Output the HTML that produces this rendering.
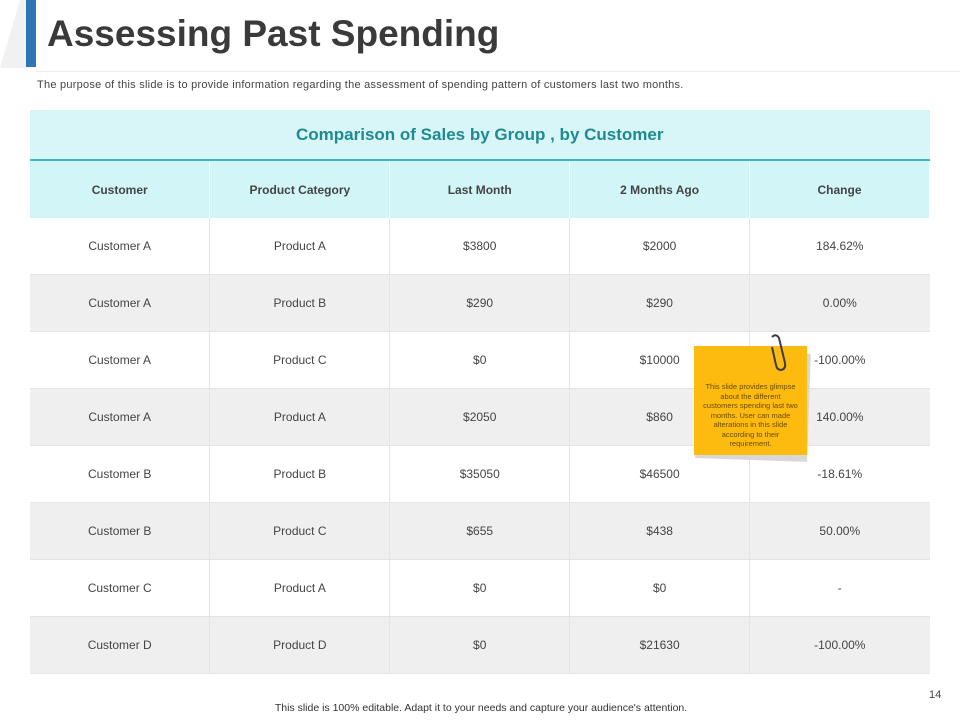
<!DOCTYPE html>
<html><head><meta charset="utf-8"><style>
body{margin:0;width:960px;height:720px;background:#fff;font-family:"Liberation Sans",sans-serif;position:relative;overflow:hidden}
.abs{position:absolute}
table{position:absolute;left:30px;top:110px;width:900px;border-collapse:collapse;table-layout:fixed}
td,th{font-size:12px;color:#444;text-align:center;border-right:1px solid #e4e4e4;padding:0}
td:last-child,th:last-child{border-right:none}
.cap{height:49px;background:#d8f5f7;color:#1f8a8f;font-size:17px;font-weight:bold;border-bottom:2px solid #3cb8c0}
.hd th{height:57px;background:#d2f5f7;font-weight:bold;color:#444;border-right:1px solid #fff}
tr.r td{height:56px;border-bottom:1px solid #e4e4e4;background:#fff}
tr.g td{background:#efefef}
</style></head><body>
<div class="abs" style="left:0;top:0;width:0;height:0;border-left:20px solid transparent;border-right:10px solid #f1f1f1;border-bottom:68px solid #f1f1f1;"></div>
<div class="abs" style="left:26px;top:0;width:10px;height:67px;background:#2e75b6"></div>
<div class="abs" style="left:47px;top:13px;font-size:37px;font-weight:bold;color:#3a3a3a">Assessing Past Spending</div>
<div class="abs" style="left:36px;top:71px;width:924px;height:1px;background:#ececec"></div>
<div class="abs" style="left:37px;top:79px;font-size:11px;letter-spacing:0.25px;color:#444">The purpose of this slide is to provide information regarding the assessment of spending pattern of customers last two months.</div>
<table>
<tr><td colspan="5" class="cap">Comparison of Sales by Group , by Customer</td></tr>
<tr class="hd"><th>Customer</th><th>Product Category</th><th>Last Month</th><th>2 Months Ago</th><th>Change</th></tr>
<tr class="r"><td>Customer A</td><td>Product A</td><td>$3800</td><td>$2000</td><td>184.62%</td></tr>
<tr class="r g"><td>Customer A</td><td>Product B</td><td>$290</td><td>$290</td><td>0.00%</td></tr>
<tr class="r"><td>Customer A</td><td>Product C</td><td>$0</td><td>$10000</td><td>-100.00%</td></tr>
<tr class="r g"><td>Customer A</td><td>Product A</td><td>$2050</td><td>$860</td><td>140.00%</td></tr>
<tr class="r"><td>Customer B</td><td>Product B</td><td>$35050</td><td>$46500</td><td>-18.61%</td></tr>
<tr class="r g"><td>Customer B</td><td>Product C</td><td>$655</td><td>$438</td><td>50.00%</td></tr>
<tr class="r"><td>Customer C</td><td>Product A</td><td>$0</td><td>$0</td><td>-</td></tr>
<tr class="r g"><td>Customer D</td><td>Product D</td><td>$0</td><td>$21630</td><td>-100.00%</td></tr>
</table>
<div class="abs" style="left:697px;top:352px;width:112px;height:108px;background:#d8d8d8;transform:rotate(2deg)"></div>
<div class="abs" style="left:694px;top:346px;width:113px;height:109px;background:#fdbb0f;font-size:7.5px;line-height:9.5px;color:#6a4c00;text-align:center;box-sizing:border-box;padding:36px 9px 0">This slide provides glimpse about the different customers spending last two months. User can made alterations in this slide according to their requirement.</div>
<svg class="abs" style="left:766px;top:333px" width="22" height="40"><path d="M6 4 Q10 0 13 5 L19 30 Q20 36 15 37 Q11 37 10 32 L6 14" fill="none" stroke="#3d3d4a" stroke-width="2"/></svg>
<div class="abs" style="left:929px;top:689px;font-size:11px;color:#444">14</div>
<div class="abs" style="left:0;width:962px;top:702px;text-align:center;font-size:10.5px;color:#333">This slide is 100% editable. Adapt it to your needs and capture your audience's attention.</div>
</body></html>
